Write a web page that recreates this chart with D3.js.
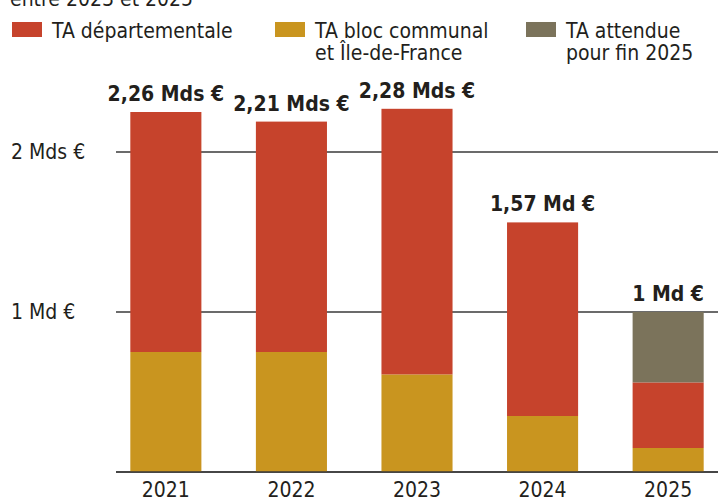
<!DOCTYPE html>
<html>
<head>
<meta charset="utf-8">
<script src="https://cdn.jsdelivr.net/npm/d3@7"></script>
<style>
  body { margin: 0; background: #fff; }
  svg { display: block; }
  text { font-family: "DejaVu Sans Condensed", "Liberation Sans Narrow", sans-serif; fill: #231f1c; }
</style>
</head>
<body>
<div id="chart"></div>
<script>
// values in milliards d'euros
const years = ['2021', '2022', '2023', '2024', '2025']
const communal = [0.75, 0.75, 0.61, 0.35, 0.15]
const departemental = [1.50, 1.44, 1.66, 1.21, 0.41]
const attendue = [0, 0, 0, 0, 0.44]
const totalLabels = ['2,26 Mds €', '2,21 Mds €', '2,28 Mds €', '1,57 Md €', '1 Md €']
const yTicks = [0, 1, 2]
const yTickLabels = ['', '1 Md €', '2 Mds €']

const seriesKeys = ['communal', 'departemental', 'attendue']
const seriesNames = ['TA bloc communal\net Île-de-France', 'TA départementale', 'TA attendue\npour fin 2025']
const colors = {communal: '#c9951f', departemental: '#c6432c', attendue: '#7b735b'}

const width = 718
const height = 501

const rows = years.map((y, i) => ({
    year: y,
    communal: communal[i],
    departemental: departemental[i],
    attendue: attendue[i],
    label: totalLabels[i]
}))

const svg = d3.select('#chart').append('svg')
    .attr('width', width)
    .attr('height', height)

const x = d3.scaleBand()
    .domain(years)
    .range([116, 718])
    .paddingInner(0.434)
    .paddingOuter(0.114)

const y = d3.scaleLinear()
    .domain([0, 2])
    .range([472, 152])

// cut-off subtitle at the very top
svg.append('text')
    .attr('x', 10)
    .attr('y', 6)
    .attr('font-size', 21)
    .text('entre 2023 et 2025')

// gridlines
svg.append('g')
    .selectAll('line')
    .data(yTicks)
    .join('line')
    .attr('x1', 116)
    .attr('x2', width)
    .attr('y1', d => y(d))
    .attr('y2', d => y(d))
    .attr('stroke', '#3a3a3a')
    .attr('stroke-width', 1.6)

svg.append('g')
    .selectAll('text')
    .data(yTicks.filter(d => d > 0))
    .join('text')
    .attr('x', 11)
    .attr('y', d => y(d))
    .attr('dy', '0.35em')
    .attr('font-size', 21)
    .text(d => yTickLabels[d])

// stacked bars
const stack = d3.stack().keys(seriesKeys)(rows)

svg.append('g')
    .selectAll('g')
    .data(stack)
    .join('g')
    .attr('fill', d => colors[d.key])
    .selectAll('rect')
    .data(d => d.filter(s => s[1] > s[0]))
    .join('rect')
    .attr('x', d => x(d.data.year))
    .attr('width', x.bandwidth())
    .attr('y', d => y(d[1]))
    .attr('height', d => y(d[0]) - y(d[1]))

// redraw baseline on top
svg.append('line')
    .attr('x1', 116)
    .attr('x2', width)
    .attr('y1', y(0))
    .attr('y2', y(0))
    .attr('stroke', '#3a3a3a')
    .attr('stroke-width', 1.6)

// total labels
const barTop = d => d.communal + d.departemental + d.attendue
svg.append('g')
    .selectAll('text')
    .data(rows)
    .join('text')
    .attr('x', d => x(d.year) + x.bandwidth() / 2)
    .attr('y', d => y(barTop(d)) - 11)
    .attr('text-anchor', 'middle')
    .attr('font-size', 21)
    .attr('font-weight', 'bold')
    .text(d => d.label)

// year labels
svg.append('g')
    .selectAll('text')
    .data(years)
    .join('text')
    .attr('x', d => x(d) + x.bandwidth() / 2)
    .attr('y', 497)
    .attr('text-anchor', 'middle')
    .attr('font-size', 21)
    .text(d => d)

// legend
const legendItems = [
    {key: 'departemental', name: seriesNames[1], x: 12},
    {key: 'communal', name: seriesNames[0], x: 275},
    {key: 'attendue', name: seriesNames[2], x: 526}
]
const lg = svg.append('g')
    .selectAll('g')
    .data(legendItems)
    .join('g')
    .attr('transform', d => `translate(${d.x},22)`)

lg.append('rect')
    .attr('width', 30)
    .attr('height', 15)
    .attr('fill', d => colors[d.key])

lg.append('text')
    .attr('x', 40)
    .attr('y', 16)
    .attr('font-size', 21)
    .selectAll('tspan')
    .data(d => d.name.split('\n'))
    .join('tspan')
    .attr('x', 40)
    .attr('dy', (d, i) => i ? 22 : 0)
    .text(d => d)
</script>
</body>
</html>
